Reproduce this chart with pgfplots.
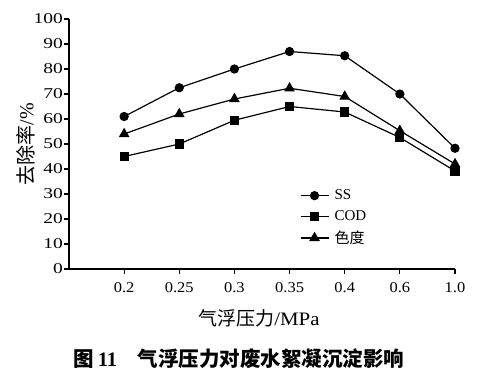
\documentclass[border=0pt]{standalone}
\usepackage{fontspec}
\setmainfont{Liberation Serif}
\newfontfamily\ytickfont{Liberation Serif}[FakeStretch=1.3]
\newfontfamily\xtickfont{Liberation Serif}[FakeStretch=1.1]
\newfontfamily\labfont{Liberation Serif}[FakeStretch=1.1]
\newfontfamily\cjk{Noto Sans CJK SC}
\usepackage{pgfplots}
\pgfplotsset{compat=1.18}
\begin{document}
\begin{tikzpicture}
\useasboundingbox (-69pt,-107pt) rectangle (416pt,269pt);
\begin{axis}[
  at={(0pt,0pt)}, anchor=south west,
  scale only axis, width=386pt, height=250pt,
  xmin=-1, xmax=6, ymin=0, ymax=100,
  axis lines=left,
  axis line style={-, line width=1.2pt},
  tick align=outside,
  major tick length=4.5pt,
  every tick/.style={black, line width=1.2pt},
  xtick={0,...,6},
  xticklabels={0.2,0.25,0.3,0.35,0.4,0.6,1.0},
  ytick={0,10,...,100},
  /pgf/number format/assume math mode=true,
  xticklabel style={font=\xtickfont\fontsize{15}{17}\selectfont, yshift=-5pt},
  yticklabel style={font=\ytickfont\fontsize{15}{17}\selectfont, xshift=2pt},
  xlabel={{\cjk 气浮压力}{\labfont/MPa}},
  ylabel={{\cjk 去除率}/\%},
  xlabel style={at={(axis description cs:0.492,-0.196)}, anchor=center, font=\fontsize{19}{21}\selectfont},
  ylabel style={at={(axis description cs:-0.112,0.5)}, anchor=center, font=\fontsize{20}{22}\selectfont},
  legend style={at={(axis description cs:0.59,0.333)}, anchor=north west, draw=none, fill=none,
    font=\fontsize{15}{17}\selectfont, row sep=5pt,
    nodes={inner xsep=5.5pt}},
  legend cell align=left,
  legend image code/.code={\draw[#1, mark repeat=2, mark phase=2] plot coordinates {(0pt,0pt)(14pt,0pt)(28pt,0pt)};},
  every axis plot/.append style={black, line width=1.2pt},
]
\addplot[mark=*, mark size=4pt] coordinates {(0,61) (1,72.5) (2,80) (3,87) (4,85.3) (5,70) (6,48.3)};
\addlegendentry{SS}
\addplot[mark=square*, mark size=4pt] coordinates {(0,45) (1,50) (2,59.5) (3,65) (4,62.8) (5,52.6) (6,39.2)};
\addlegendentry{COD}
\addplot[mark=triangle*, mark size=5pt] coordinates {(0,54) (1,62) (2,68) (3,72.3) (4,69) (5,55.3) (6,42)};
\addlegendentry{{\cjk 色度}}
\end{axis}
\node[font=\cjk\bfseries\fontsize{20.5}{22}\selectfont] at (170pt,-90pt) {图\,{\rmfamily\bfseries 11}\quad 气浮压力对废水絮凝沉淀影响};
\end{tikzpicture}
\end{document}
